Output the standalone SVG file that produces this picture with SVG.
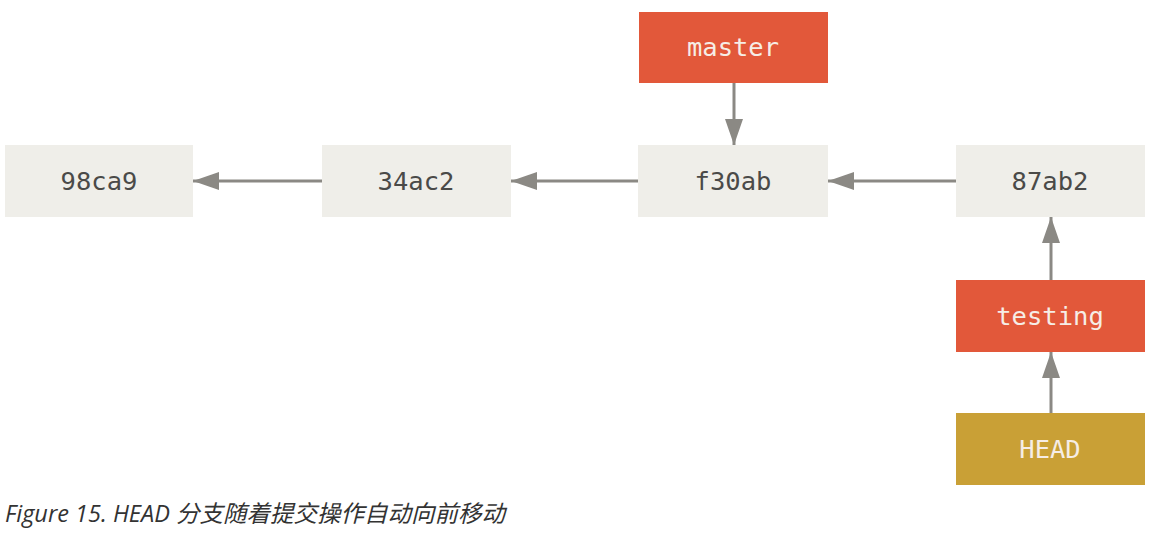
<svg xmlns="http://www.w3.org/2000/svg" width="1166" height="536" viewBox="0 0 1166 536">
<style>
.commit{fill:#efeee9}
.branch{fill:#e2583a}
.head{fill:#c9a036}
.lbl{font-family:"DejaVu Sans Mono","Liberation Mono",monospace;font-size:25.5px;text-anchor:middle;dominant-baseline:central}
.dark{fill:#4a4a48}
.light{fill:#f6ede6}
.conn{stroke:#8b8984;stroke-width:3;fill:none;marker-end:url(#ah)}
.cap{font-family:"Open Sans","Noto Sans CJK SC",sans-serif;font-style:italic;font-size:23.5px;fill:#333}
</style>
<defs>
<marker id="ah" markerUnits="userSpaceOnUse" markerWidth="26" markerHeight="18" refX="26" refY="9" orient="auto">
<path d="M0,0 L26,9 L0,18 Z" fill="#8b8984"/>
</marker>
</defs>
<rect width="1166" height="536" fill="#ffffff"/>
<g id="connectors">
<line class="conn" x1="322" y1="181" x2="193" y2="181"/>
<line class="conn" x1="638" y1="181" x2="511" y2="181"/>
<line class="conn" x1="956" y1="181" x2="828" y2="181"/>
<line class="conn" x1="734" y1="83" x2="734" y2="145"/>
<line class="conn" x1="1051" y1="280" x2="1051" y2="217"/>
<line class="conn" x1="1051" y1="413" x2="1051" y2="352"/>
</g>
<g id="c98ca9"><rect class="commit" x="5" y="145" width="188" height="72"/><text class="lbl dark" x="99" y="181">98ca9</text></g>
<g id="c34ac2"><rect class="commit" x="322" y="145" width="189" height="72"/><text class="lbl dark" x="416" y="181">34ac2</text></g>
<g id="cf30ab"><rect class="commit" x="638" y="145" width="190" height="72"/><text class="lbl dark" x="733" y="181">f30ab</text></g>
<g id="c87ab2"><rect class="commit" x="956" y="145" width="189" height="72"/><text class="lbl dark" x="1050" y="181">87ab2</text></g>
<g id="master"><rect class="branch" x="639" y="12" width="189" height="71"/><text class="lbl light" x="733" y="47">master</text></g>
<g id="testing"><rect class="branch" x="956" y="280" width="189" height="72"/><text class="lbl light" x="1050" y="316">testing</text></g>
<g id="HEAD"><rect class="head" x="956" y="413" width="189" height="72"/><text class="lbl light" x="1050" y="449">HEAD</text></g>
<text class="cap" x="5" y="522">Figure 15. HEAD 分支随着提交操作自动向前移动</text>
</svg>
